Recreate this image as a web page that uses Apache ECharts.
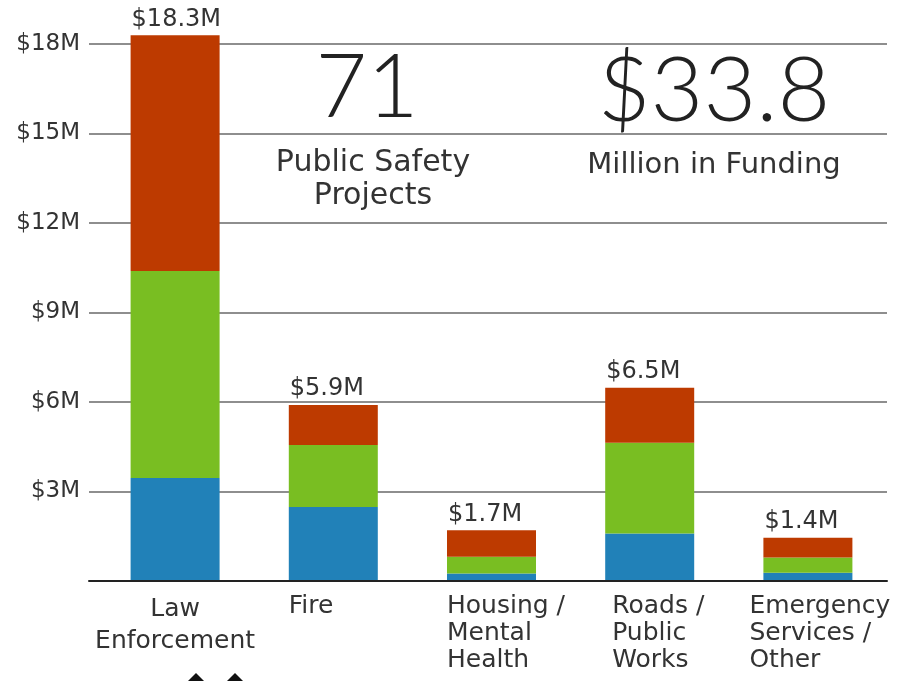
<!DOCTYPE html>
<html>
<head>
<meta charset="utf-8">
<script src="https://cdn.jsdelivr.net/npm/echarts@6/dist/echarts.min.js"></script>
<style>
  html, body { margin: 0; padding: 0; background: #fff; }
  #canvas { width: 901px; height: 681px; }
</style>
</head>
<body>
<div id="canvas"></div>
<script>
const categories = ["Law\nEnforcement", "Fire", "Housing /\nMental\nHealth", "Roads /\nPublic\nWorks", "Emergency\nServices /\nOther"];
const blueValues = [3.45, 2.48, 0.25, 1.59, 0.28];
const greenValues = [6.94, 2.08, 0.56, 3.04, 0.51];
const redValues = [7.9, 1.34, 0.89, 1.85, 0.66];
const totalLabels = ["$18.3M", "$5.9M", "$1.7M", "$6.5M", "$1.4M"];
const yMax = 18;
const yStep = 3;

const labelFont = "DejaVu Sans";
const textColor = "#333";

// each category label gets its own box so it lines up like the original
const labelRich = {
  c0: { fontFamily: labelFont, fontSize: 25, lineHeight: 32, color: textColor, align: "center" },
  c1: { fontFamily: labelFont, fontSize: 25, lineHeight: 27, color: textColor, align: "left", width: 89 },
  c2: { fontFamily: labelFont, fontSize: 25, lineHeight: 27, color: textColor, align: "left", width: 89 },
  c3: { fontFamily: labelFont, fontSize: 25, lineHeight: 27, color: textColor, align: "left", width: 75 },
  c4: { fontFamily: labelFont, fontSize: 25, lineHeight: 27, color: textColor, align: "left", width: 117 }
};

const myChart = window.echarts.init(document.querySelector("#canvas"));

myChart.setOption({
  animation: false,
  grid: [
    { left: 89, right: 14, top: 44, bottom: 100 },
    { left: 96, right: 14, top: 44, bottom: 100 }
  ],
  xAxis: [
    {
      type: "value", gridIndex: 0, min: 0, max: 1, z: 5,
      axisLine: { show: true, lineStyle: { color: "#222", width: 2 } },
      axisTick: { show: false }, axisLabel: { show: false }, splitLine: { show: false }
    },
    {
      type: "category", gridIndex: 1, data: categories,
      axisLine: { show: false }, axisTick: { show: false },
      axisLabel: {
        interval: 0,
        margin: 12,
        formatter: (value, idx) => value.split("\n").map(l => "{c" + idx + "|" + l + "}").join("\n"),
        rich: labelRich
      }
    }
  ],
  yAxis: [
    {
      type: "value", gridIndex: 0, min: 0, max: yMax, interval: yStep,
      axisLine: { show: false }, axisTick: { show: false },
      axisLabel: {
        margin: 9,
        formatter: v => v === 0 ? "" : "$" + v + "M",
        fontFamily: labelFont, fontSize: 23, color: textColor
      },
      splitLine: { lineStyle: { color: "#8e8e8e", width: 2 } }
    },
    {
      type: "value", gridIndex: 1, min: 0, max: yMax, interval: yStep, show: false,
      splitLine: { show: false }
    }
  ],
  series: [
    {
      type: "bar", xAxisIndex: 1, yAxisIndex: 1, stack: "total", barWidth: 89, clip: false,
      data: blueValues, itemStyle: { color: "#2181b8" }
    },
    {
      type: "bar", xAxisIndex: 1, yAxisIndex: 1, stack: "total", barWidth: 89, clip: false,
      data: greenValues, itemStyle: { color: "#79be22" }
    },
    {
      type: "bar", xAxisIndex: 1, yAxisIndex: 1, stack: "total", barWidth: 89, clip: false,
      data: redValues, itemStyle: { color: "#bd3a00" },
      label: {
        show: true,
        position: [1, -4],
        align: "left",
        verticalAlign: "bottom",
        formatter: p => totalLabels[p.dataIndex],
        fontFamily: labelFont, fontSize: 24, color: textColor
      }
    }
  ],
  graphic: [
    { type: "text", x: 367, y: 88, style: { text: "71", font: "300 89px Lato", fill: "#222", textAlign: "center", textVerticalAlign: "middle" } },
    { type: "text", x: 373, y: 163, style: { text: "Public Safety", font: "30px 'DejaVu Sans'", fill: textColor, textAlign: "center", textVerticalAlign: "middle" } },
    { type: "text", x: 373, y: 196, style: { text: "Projects", font: "30px 'DejaVu Sans'", fill: textColor, textAlign: "center", textVerticalAlign: "middle" } },
    { type: "text", x: 714, y: 92, style: { text: "$33.8", font: "300 91px Lato", fill: "#222", textAlign: "center", textVerticalAlign: "middle" } },
    { type: "text", x: 714, y: 165, style: { text: "Million in Funding", font: "29px 'DejaVu Sans'", fill: textColor, textAlign: "center", textVerticalAlign: "middle" } },
    { type: "polygon", shape: { points: [[188, 681], [196, 673], [204, 681]] }, style: { fill: "#111" } },
    { type: "polygon", shape: { points: [[227, 681], [235, 673], [243, 681]] }, style: { fill: "#111" } }
  ]
});
</script>
</body>
</html>
